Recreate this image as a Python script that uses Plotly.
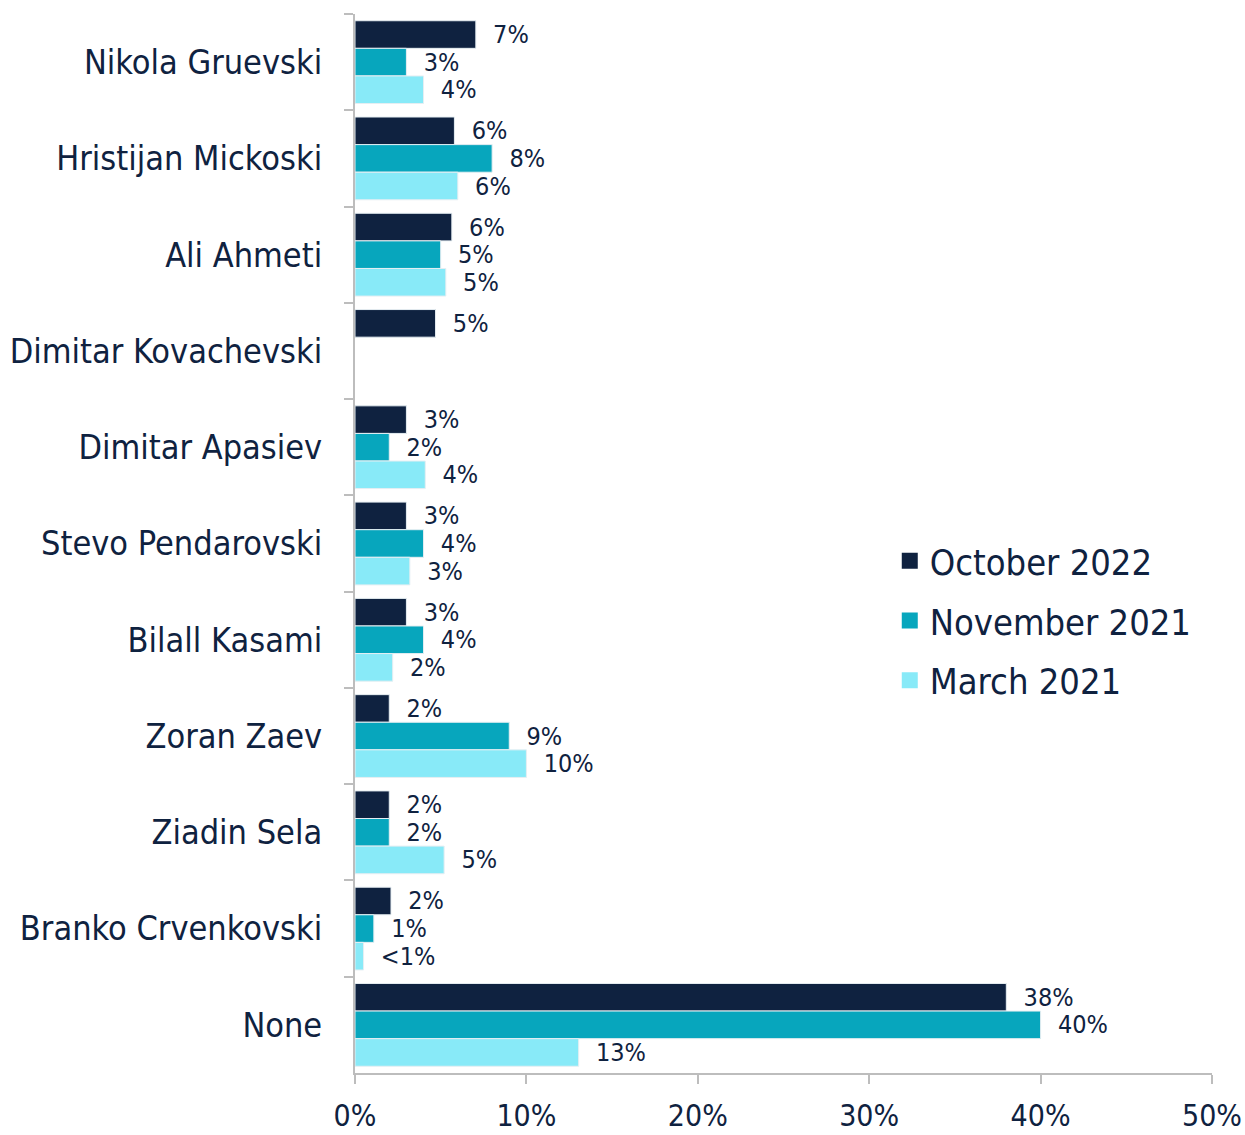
import plotly.graph_objects as go

categories = ["Nikola Gruevski", "Hristijan Mickoski", "Ali Ahmeti", "Dimitar Kovachevski",
              "Dimitar Apasiev", "Stevo Pendarovski", "Bilall Kasami", "Zoran Zaev",
              "Ziadin Sela", "Branko Crvenkovski", "None"]

series_names = ["October 2022", "November 2021", "March 2021"]

oct_2022 = [7.05, 5.8, 5.65, 4.7, 3.0, 3.0, 3.0, 2.0, 2.0, 2.1, 38.0]
nov_2021 = [3.0, 8.0, 5.0, None, 2.0, 4.0, 4.0, 9.0, 2.0, 1.1, 40.0]
mar_2021 = [4.0, 6.0, 5.3, None, 4.1, 3.2, 2.2, 10.0, 5.2, 0.5, 13.05]

oct_labels = ["7%", "6%", "6%", "5%", "3%", "3%", "3%", "2%", "2%", "2%", "38%"]
nov_labels = ["3%", "8%", "5%", "", "2%", "4%", "4%", "9%", "2%", "1%", "40%"]
mar_labels = ["4%", "6%", "5%", "", "4%", "3%", "2%", "10%", "5%", "<1%", "13%"]

colors = ["#0f2240", "#07a6bd", "#88eaf8"]
text_color = "#0f2240"
font_family = "DejaVu Sans Condensed, DejaVu Sans, sans-serif"

fig = go.Figure()
for name, vals, labs, col in zip(series_names, [oct_2022, nov_2021, mar_2021],
                                 [oct_labels, nov_labels, mar_labels], colors):
    fig.add_trace(go.Bar(
        y=categories, x=vals, name=name, orientation="h",
        marker=dict(color=col, line=dict(color="#e6eef2", width=1)),
        text=["  " + t if t else "" for t in labs],
        textposition="outside", constraintext="none", cliponaxis=False,
        textfont=dict(family=font_family, size=25, color=text_color),
        showlegend=False,
        hoverinfo="skip",
    ))

# legend entries with larger square swatches
for name, col in zip(series_names, colors):
    fig.add_trace(go.Scatter(
        x=[None], y=[None], mode="markers", name=name,
        marker=dict(symbol="square", size=22, color=col),
        legendgroup=name, showlegend=True, hoverinfo="skip",
    ))

fig.update_layout(
    width=1245, height=1135,
    barmode="group", bargap=0.14, bargroupgap=0,
    paper_bgcolor="white", plot_bgcolor="white",
    margin=dict(l=355, r=33, t=14, b=62),
    font=dict(family=font_family, color=text_color),
    legend=dict(x=0.624, y=0.512, xanchor="left", yanchor="top",
                font=dict(family=font_family, size=36, color=text_color),
                traceorder="grouped", tracegroupgap=10, itemsizing="trace",
                itemwidth=30, bgcolor="rgba(0,0,0,0)"),
    showlegend=True,
)
fig.update_xaxes(range=[0, 50], dtick=10, ticksuffix="%", showgrid=False, zeroline=False,
                 showline=True, linecolor="#bdbdbd", linewidth=2,
                 ticks="outside", ticklen=9, tickcolor="#bdbdbd", tickwidth=2,
                 tickfont=dict(family=font_family, size=30, color=text_color),
                 ticklabelstandoff=6, automargin=False)
fig.update_yaxes(autorange="reversed", showgrid=False, zeroline=False,
                 showline=True, linecolor="#bdbdbd", linewidth=2,
                 ticks="outside", ticklen=9, tickcolor="#bdbdbd", tickwidth=2,
                 tickson="boundaries",
                 tickfont=dict(family=font_family, size=34, color=text_color),
                 ticklabelstandoff=24, automargin=False)

fig.write_html("out.html", config={"displayModeBar": False},
               post_script="document.body.style.margin='0';document.body.style.padding='0';"
                           "document.documentElement.style.overflow='hidden';")
